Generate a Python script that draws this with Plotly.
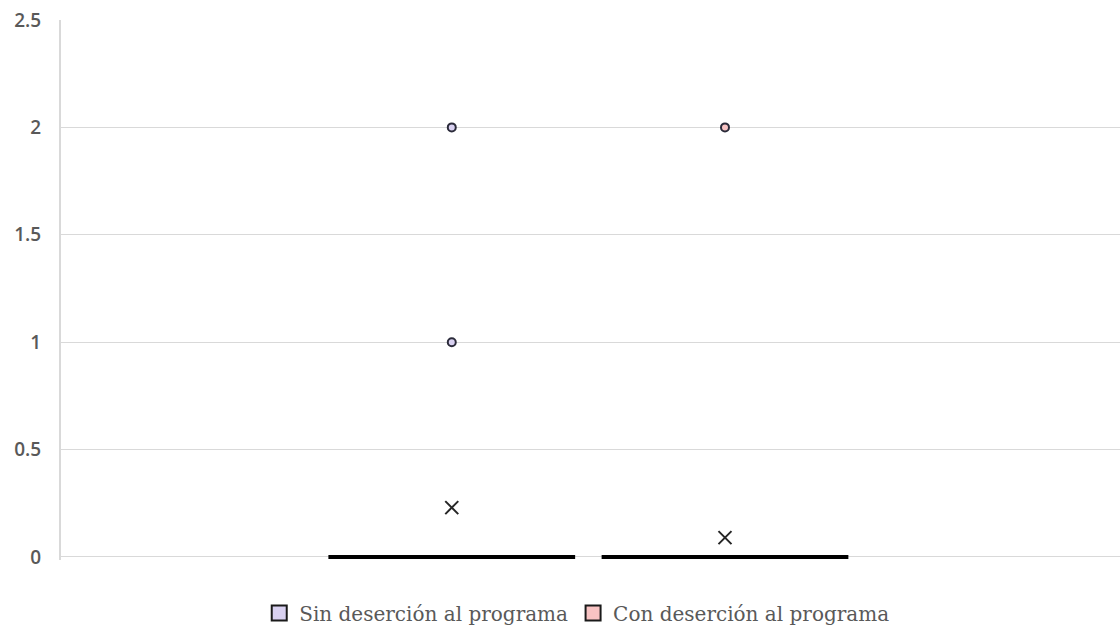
import plotly.graph_objects as go

# Series: participants without / with programme dropout
series_names = ["Sin deserción al programa", "Con deserción al programa"]
fill_colors = ["#d9d1f1", "#f8c3c3"]
positions = [0.369, 0.627]          # x position of each box along the hidden axis
box_width = 0.233

# Five-number summaries (all collapse to 0) and means
q1 = [0, 0]
median = [0, 0]
q3 = [0, 0]
lower = [0, 0]
upper = [0, 0]
means = [0.23, 0.09]

# Outlying values per series
outliers = [[1, 2], [2]]

y_ticks = [0, 0.5, 1, 1.5, 2, 2.5]
y_tick_text = ["0", "0.5", "1", "1.5", "2", "2.5"]

fig = go.Figure()

for i, name in enumerate(series_names):
    fig.add_trace(go.Box(
        name=name,
        x=[positions[i]],
        q1=[q1[i]], median=[median[i]], q3=[q3[i]],
        lowerfence=[lower[i]], upperfence=[upper[i]],
        width=box_width,
        fillcolor=fill_colors[i],
        line=dict(color="#000000", width=4),
        whiskerwidth=0,
        boxpoints=False,
        showlegend=False,
        hoverinfo="skip",
    ))

for i, name in enumerate(series_names):
    # outlier points
    fig.add_trace(go.Scatter(
        x=[positions[i]] * len(outliers[i]),
        y=outliers[i],
        mode="markers",
        marker=dict(symbol="circle", size=8, color=fill_colors[i],
                    line=dict(color="#2b2b3a", width=2)),
        showlegend=False, hoverinfo="skip",
    ))
    # mean marker
    fig.add_trace(go.Scatter(
        x=[positions[i]], y=[means[i]],
        mode="markers",
        marker=dict(symbol="x-thin", size=13,
                    line=dict(color="#262626", width=2)),
        showlegend=False, hoverinfo="skip",
    ))

# legend swatches: filled squares with a dark border
for i, name in enumerate(series_names):
    fig.add_trace(go.Scatter(
        x=[None], y=[None], name=name, mode="markers",
        marker=dict(symbol="square", size=15, color=fill_colors[i],
                    line=dict(color="#1a1a1a", width=2)),
        showlegend=True, hoverinfo="skip",
    ))

fig.update_layout(
    width=1120, height=630,
    margin=dict(l=61, r=0, t=20, b=70, autoexpand=False),
    paper_bgcolor="white", plot_bgcolor="white",
    showlegend=True,
    legend=dict(
        orientation="h", x=0.487, xanchor="center",
        y=-0.062, yanchor="top",
        font=dict(family="DejaVu Serif", size=20, color="#595959"),
        itemsizing="trace", itemwidth=30,
    ),
    xaxis=dict(range=[0, 1], visible=False, showgrid=False, zeroline=False),
    yaxis=dict(
        range=[-0.014, 2.5],
        tickvals=y_ticks, ticktext=y_tick_text,
        showgrid=True, gridcolor="#d9d9d9", gridwidth=1,
        showline=True, linecolor="#d9d9d9", linewidth=2,
        zeroline=False,
        ticks="", ticklabelstandoff=14,
        tickfont=dict(family="Open Sans", size=19, color="#595959", weight=600),
    ),
)

fig.write_html("out.html")
